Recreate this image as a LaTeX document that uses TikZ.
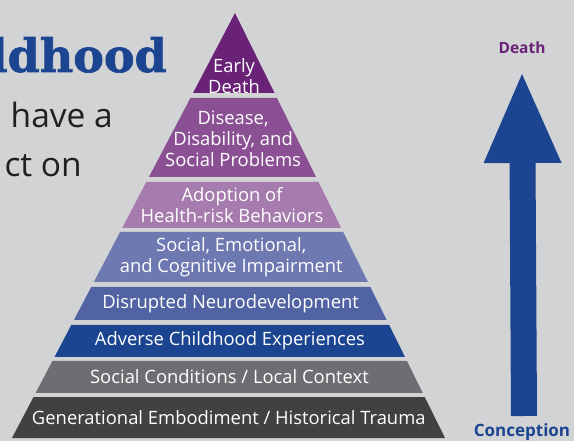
\documentclass[tikz,border=0pt]{standalone}
\usepackage{fontspec}
\setmainfont{Open Sans}
\newfontfamily\slabfont[BoldFeatures={FakeBold=1.5}]{DejaVu Serif}
\usetikzlibrary{arrows.meta,positioning}
\definecolor{bgGray}{HTML}{D1D3D4}
\definecolor{cEarly}{HTML}{6A2277}
\definecolor{cDisease}{HTML}{8A5093}
\definecolor{cAdopt}{HTML}{A67BAD}
\definecolor{cSocial}{HTML}{6E78B1}
\definecolor{cNeuro}{HTML}{5163A2}
\definecolor{cAce}{HTML}{1B4590}
\definecolor{cCond}{HTML}{6D6E71}
\definecolor{cGen}{HTML}{414042}
\definecolor{cInk}{HTML}{231F20}
\tikzset{layertext/.style={text=white, align=center, inner sep=0pt,
    font=\fontsize{18.4}{20.8}\selectfont}}
\tikzset{introtext/.style={anchor=base east, inner sep=0pt, text=cInk,
    font=\fontsize{33.5}{33.5}\selectfont}}
\tikzset{lifearrow/.style={cAce, line width=26pt,
    -{Triangle[length=93pt,width=70pt]}}}
\begin{document}
\begin{tikzpicture}[x=1pt,y=-1pt]
  \clip (0,0) rectangle (574,441);
  \fill[bgGray] (0,0) rectangle (574,441);
  % heading, cut off at the left
  \node[anchor=base east, inner sep=0pt, text=cAce,
        font=\slabfont\bfseries\fontsize{46}{46}\selectfont] (title) at (167,72) {ldhood};
  \node[introtext] (introa) at (113,128) {have a};
  \node[introtext] (introb) at (82,177) {ct on};
  % pyramid: name/top/bottom/text y/colour/text
  \foreach \n/\t/\b/\ty/\c/\txt in {
      ed/13/93/76/cEarly/{Early\\Death},
      dis/98/177/139/cDisease/{Disease,\\Disability, and\\Social Problems},
      ado/182/228/205/cAdopt/{Adoption of\\Health-risk Behaviors},
      sei/232/282/257/cSocial/{Social, Emotional,\\and Cognitive Impairment},
      neu/287/320/303.5/cNeuro/{Disrupted Neurodevelopment},
      ace/325/357/341/cAce/{Adverse Childhood Experiences},
      soc/361/393/377/cCond/{Social Conditions / Local Context},
      gen/397/438/417.5/cGen/{Generational Embodiment / Historical Trauma}}{
    \pgfmathsetmacro\xlt{235-0.5247*(\t-13)}
    \pgfmathsetmacro\xrt{235+0.4941*(\t-13)}
    \pgfmathsetmacro\xlb{235-0.5247*(\b-13)}
    \pgfmathsetmacro\xrb{235+0.4941*(\b-13)}
    \pgfmathsetmacro\xm{235-0.0153*(\ty-13)}
    \fill[\c] (\xlt,\t) -- (\xrt,\t) -- (\xrb,\b) -- (\xlb,\b) -- cycle;
    \node[layertext] (\n) at (\xm,\ty) {\txt};
  }
  % life course arrow
  \node[anchor=base, inner sep=0pt, text=cEarly,
        font=\bfseries\fontsize{15.5}{15.5}\selectfont] (death) at (522,54) {Death};
  \node[anchor=base, inner sep=0pt, text=cAce,
        font=\bfseries\fontsize{17}{17}\selectfont] (conception) at (522,436.5) {Conception};
  \coordinate (start) at (524,416);
  \coordinate (tip) at (522,70);
  \draw[lifearrow] (start) -- (tip);
\end{tikzpicture}
\end{document}
